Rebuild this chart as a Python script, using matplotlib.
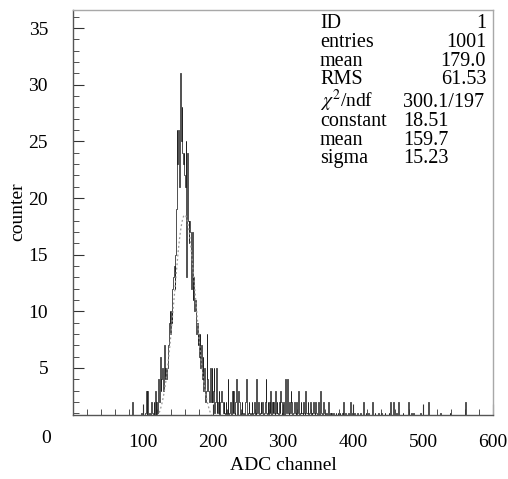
import matplotlib
matplotlib.use("Agg")
import matplotlib.pyplot as plt
import matplotlib.transforms as mtransforms
import numpy as np

plt.rcParams['font.family'] = ['Liberation Serif', 'DejaVu Serif']
plt.rcParams['mathtext.fontset'] = 'stix'

# histogram contents, 1 channel per bin, starting at channel 80
first_channel = 80
counts = [
    0, 0, 0, 0, 2, 0, 0, 0, 0, 0, 0, 0, 0, 0, 0, 0, 0, 1, 0, 0,          # 80
    0, 0, 0, 1, 3, 0, 3, 0, 0, 1, 0, 0, 2, 1, 0, 2, 0, 3, 0, 2,          # 100
    1, 3, 4, 2, 6, 3, 4, 5, 4, 3, 7, 4, 5, 4, 5, 6, 7, 9, 10, 8,         # 120
    10, 9, 12, 13, 14, 12, 15, 19, 26, 23, 26, 22, 21, 31, 25, 28, 24, 23, 24, 22,  # 140
    21, 25, 13, 24, 18, 16, 18, 17, 14, 12, 17, 11, 13, 10, 11, 9, 8, 9, 7, 8,      # 160
    6, 8, 5, 7, 4, 6, 3, 5, 4, 2, 3, 8, 4, 3, 2, 3, 5, 2, 5, 2,          # 180
    3, 5, 1, 2, 5, 1, 2, 1, 3, 0, 2, 3, 3, 2, 1, 2, 1, 0, 2, 1,          # 200
    1, 4, 0, 1, 2, 1, 0, 3, 1, 3, 1, 0, 2, 4, 0, 1, 3, 2, 1, 0,          # 220
    1, 2, 0, 1, 0, 0, 2, 4, 1, 0, 1, 2, 1, 0, 1, 2, 0, 1, 1, 2,          # 240
    1, 0, 4, 1, 2, 1, 0, 1, 2, 1, 2, 1, 0, 1, 2, 4, 1, 0, 2, 1,          # 260
    2, 1, 3, 0, 2, 1, 2, 1, 0, 3, 1, 2, 1, 0, 2, 1, 3, 2, 0, 1,          # 280
    2, 1, 0, 4, 1, 2, 4, 1, 0, 2, 1, 3, 2, 0, 1, 1, 2, 1, 0, 2,          # 300
    1, 2, 3, 0, 1, 2, 1, 1, 0, 2, 1, 0, 3, 1, 1, 2, 0, 1, 1, 2,          # 320
    1, 0, 1, 2, 1, 0, 2, 1, 1, 0, 2, 1, 0, 3, 1, 1, 0, 2, 1, 1,          # 340
    0, 1, 1, 0, 2, 0, 0, 1, 0, 1, 0, 0, 1, 0, 0, 1, 0, 0, 1, 0,          # 360
    0, 1, 0, 0, 1, 0, 2, 0, 0, 1, 0, 0, 0, 1, 0, 0, 2, 0, 0, 1,          # 380
    0, 0, 1, 0, 0, 0, 1, 0, 0, 0, 1, 0, 0, 0, 2, 0, 0, 0, 1, 0,          # 400
    0, 0, 1, 0, 0, 0, 0, 2, 0, 0, 0, 1, 0, 0, 0, 0, 1, 0, 0, 0,          # 420
    1, 0, 0, 0, 0, 1, 0, 0, 0, 0, 0, 1, 0, 2, 0, 0, 0, 2, 0, 0,          # 440
    0, 0, 1, 0, 2, 0, 0, 0, 0, 0, 0, 1, 0, 0, 0, 0, 0, 0, 0, 2,          # 460
    0, 0, 0, 1, 0, 0, 1, 0, 0, 0, 0, 0, 0, 0, 0, 0, 1, 0, 0, 0,          # 480
    0, 0, 0, 0, 0, 0, 0, 2, 0, 0, 0, 0, 0, 0, 0, 0, 0, 0, 0, 0,          # 500
    0, 0, 0, 0, 1, 0, 0, 0, 0, 0, 0, 0, 0, 0, 0, 0, 0, 0, 1, 0,          # 520
    0, 0, 0, 0, 0, 0, 0, 0, 0, 0, 0, 0, 0, 0, 0, 0, 0, 0, 0, 0,          # 540
    2, 0, 0, 0, 0,                                                     # 560
]

# fit results shown in the stats box
fit_constant = 18.51
fit_mean = 159.7
fit_sigma = 15.23

stat_names = ['ID', 'entries', 'mean', 'RMS']
stat_values = ['1', '1001', '179.0', '61.53']
fit_names = [r'$\chi^2$/ndf', 'constant', 'mean', 'sigma']
fit_values = ['300.1/197', '18.51', '159.7', '15.23']

x_ticks = [100, 200, 300, 400, 500, 600]
y_ticks = [5, 10, 15, 20, 25, 30, 35]

fig = plt.figure(figsize=(5.08, 4.79), dpi=100)
ax = fig.add_axes([73 / 508, 64 / 479, 420 / 508, 405 / 479])

edges = np.arange(first_channel, first_channel + len(counts) + 1)
ax.stairs(counts, edges, color='#222222', lw=0.55, baseline=0)

xf = np.linspace(100, 220, 300)
yf = fit_constant * np.exp(-0.5 * ((xf - fit_mean) / fit_sigma) ** 2)
ax.plot(xf, yf, color='#999999', lw=0.9, ls=(0, (1.5, 2)))

ax.set_xlim(0, 600)
ax.set_ylim(0.84, 36.6)

ax.set_xticks(x_ticks)
ax.set_xticks(np.arange(0, 601, 20), minor=True)
ax.set_yticks(y_ticks)
ax.set_yticks(np.arange(1, 37, 1), minor=True)
ax.tick_params(axis='both', which='both', direction='in', top=False, right=False,
               colors='#333333', labelcolor='black')
ax.tick_params(axis='both', which='major', length=8, width=0.8, labelsize=14)
ax.tick_params(axis='both', which='minor', length=4, width=0.6)
ax.tick_params(axis='y', which='major', pad=18)
ax.tick_params(axis='x', which='major', pad=14)

for side in ['top', 'right']:
    ax.spines[side].set_color('#a8a8a8')
for side in ['left', 'bottom']:
    ax.spines[side].set_color('#555555')
for sp in ax.spines.values():
    sp.set_linewidth(1.0)

# shared zero label in the corner
trans = mtransforms.blended_transform_factory(ax.transAxes, ax.transData)
ax.text(-0.053, -1.25, '0', transform=trans, ha='right', va='center',
        fontsize=14, clip_on=False)

fig.text(283 / 508, 1 - 465 / 479, 'ADC channel', fontsize=14, ha='center', va='center')
fig.text(18 / 508, 1 - 212 / 479, 'counter', fontsize=14, ha='center', va='center',
         rotation=90)

# stats box
rows_y = [28, 47, 66, 84, 107, 126, 145, 163]
for i, (n, v) in enumerate(zip(stat_names, stat_values)):
    fig.text(320 / 508, 1 - rows_y[i] / 479, n, fontsize=14.5, va='baseline', ha='left')
    fig.text(486 / 508, 1 - rows_y[i] / 479, v, fontsize=14.5, va='baseline', ha='right')
for i, (n, v) in enumerate(zip(fit_names, fit_values)):
    fig.text(320 / 508, 1 - rows_y[i + 4] / 479, n, fontsize=14 if i == 0 else 14.5,
             va='baseline', ha='left')
    fig.text(403 / 508, 1 - rows_y[i + 4] / 479, v, fontsize=14.5, va='baseline', ha='left')

fig.savefig('out.png', dpi=100)
